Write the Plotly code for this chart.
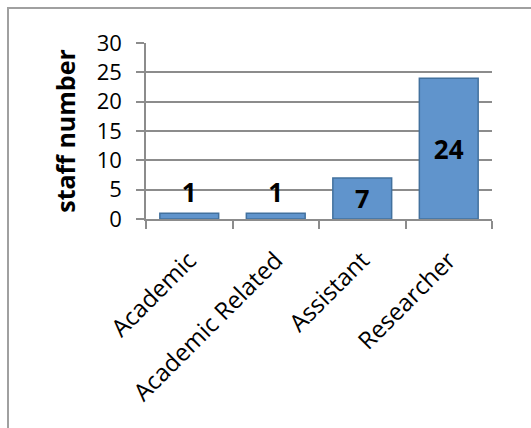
import plotly.graph_objects as go

categories = ["Academic", "Academic Related", "Assistant", "Researcher"]
staff = [1, 1, 7, 24]
y_ticks = [0, 5, 10, 15, 20, 25, 30]

W, H = 531, 428
L, R, T, B = 146, 39, 43, 209

fig = go.Figure(go.Bar(
    x=categories, y=staff,
    width=0.68,
    marker=dict(color="#6094CC", line=dict(color="#42719E", width=1.5)),
    text=[str(v) for v in staff],
    textposition="auto",
    textangle=0,
    insidetextanchor="middle",
    textfont=dict(family="Open Sans", size=26, color="black", weight="bold"),
    cliponaxis=False,
))

fig.update_layout(
    width=W, height=H,
    margin=dict(l=L, r=R, t=T, b=B, pad=0),
    paper_bgcolor="white", plot_bgcolor="white",
    showlegend=False,
    font=dict(family="Open Sans", color="black"),
    xaxis=dict(
        type="category",
        tickson="boundaries",
        ticks="outside", ticklen=8, tickcolor="#8c8c8c", tickwidth=1.5,
        showline=True, linecolor="#8c8c8c", linewidth=1.5,
        showgrid=False,
        tickangle=-45,
        ticklabelstandoff=16,
        tickfont=dict(size=24, family="Open Sans", color="black"),
    ),
    yaxis=dict(
        range=[0, 30],
        tickvals=y_ticks,
        ticks="outside", ticklen=8, tickcolor="#8c8c8c", tickwidth=1.5,
        showline=True, linecolor="#8c8c8c", linewidth=1.5,
        showgrid=True, gridcolor="#8c8c8c", gridwidth=1.5,
        zeroline=False,
        ticklabelstandoff=10,
        tickfont=dict(size=22, family="Open Sans", color="black"),
        title=dict(text="staff number", font=dict(size=25, family="Open Sans", color="black", weight="bold"), standoff=14),
    ),
    shapes=[dict(
        type="rect", xref="paper", yref="paper",
        x0=(8 - L) / (W - L - R), x1=(W + 20 - L) / (W - L - R),
        y0=(H - B - (H + 20)) / (H - T - B), y1=(H - B - 8) / (H - T - B),
        line=dict(color="#a0a0a0", width=2), fillcolor="rgba(0,0,0,0)", layer="below",
    )],
)

fig.write_html("out.html")
